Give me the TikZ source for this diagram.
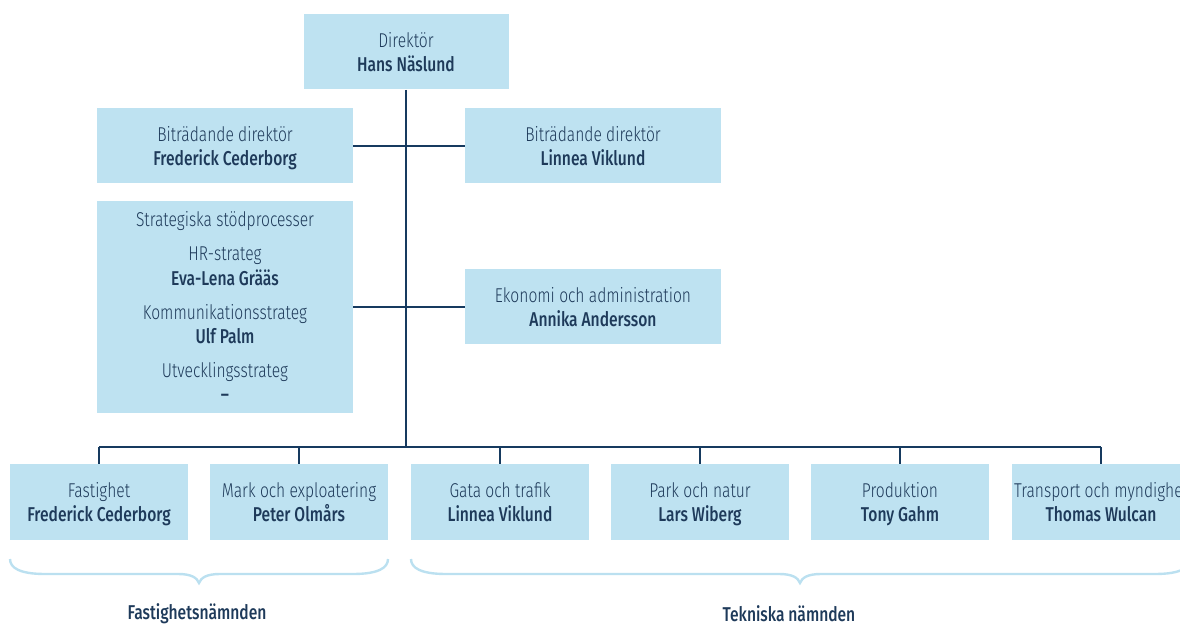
\documentclass[tikz,border=0pt]{standalone}
\usepackage{fontspec}
\setmainfont{Fira Sans Light}[FakeStretch=0.78, BoldFont={Fira Sans Medium}]
\definecolor{boxblue}{HTML}{BEE2F1}
\definecolor{navy}{HTML}{163A5F}
\definecolor{ink}{HTML}{1E3A5A}
\definecolor{braceblue}{HTML}{BBE0F0}
\newcommand{\nm}[1]{\textbf{#1}\rule[-2.4pt]{0pt}{2.4pt}}
\newcommand{\rl}[1]{\rule{0pt}{9.8pt}#1}

\begin{document}
\begin{tikzpicture}[x=0.5pt, y=-0.5pt,
  every node/.style={text=ink, font=\fontsize{10}{12.2}\selectfont},
  orgbox/.style={fill=boxblue, align=center, inner sep=0pt},
  widebox/.style={orgbox, minimum width=128pt, minimum height=37.5pt},
  unitbox/.style={orgbox, minimum width=89pt, minimum height=38pt},
  link/.style={navy, line width=1.4pt},
  brace/.style={braceblue, line width=1.2pt}]
\clip (0,0) rectangle (1180,626);
\node[orgbox, minimum width=102.5pt, minimum height=37.5pt] (dir0) at (406,52){\rl{Direktör}\\\nm{Hans Näslund}};
\node[widebox] (bit1) at (225,146){\rl{Biträdande direktör}\\\nm{Frederick Cederborg}};
\node[widebox] (bit2) at (593,146){\rl{Biträdande direktör}\\\nm{Linnea Viklund}};
\node[widebox, minimum height=106pt] (sto0) at (225,307){\rl{Strategiska stödprocesser}\\[4.75pt]
  HR-strateg\\\textbf{Eva-Lena Grääs}\\[4.75pt]
  Kommunikationsstrateg\\\textbf{Ulf Palm}\\[4.75pt]
  Utvecklingsstrateg\\\nm{--}};
\node[widebox] (eko0) at (593,307){\rl{Ekonomi och administration}\\\nm{Annika Andersson}};
\node[unitbox] (enh0) at (99,502){\rl{Fastighet}\\\nm{Frederick Cederborg}};
\node[unitbox] (enh1) at (299,502){\rl{Mark och exploatering}\\\nm{Peter Olmårs}};
\node[unitbox] (enh2) at (500,502){\rl{Gata och trafik}\\\nm{Linnea Viklund}};
\node[unitbox] (enh3) at (700,502){\rl{Park och natur}\\\nm{Lars Wiberg}};
\node[unitbox] (enh4) at (900,502){\rl{Produktion}\\\nm{Tony Gahm}};
\node[unitbox] (enh5) at (1101,502){\rl{Transport och myndighet}\\\nm{Thomas Wulcan}};
\coordinate (hub) at (406,447);
\draw[link](dir0) -- (hub);
\draw[link](bit1) -- (bit2);
\draw[link](sto0) -- (eko0);
\draw[link](enh0.north |- hub) -- (enh5.north |- hub);
\foreach \i in {0,...,5}
  \draw[link](enh\i.north) -- (enh\i.north |- hub);
% braces
\draw[brace] (10,559) .. controls (10,568) and (20,574) .. (45,574) -- (178,574)
  .. controls (192,574) and (197,578) .. (199,583) .. controls (201,578) and (206,574) .. (220,574)
  -- (353,574) .. controls (378,574) and (388,568) .. (388,559);
\draw[brace] (411,559) .. controls (411,568) and (421,574) .. (446,574) -- (779,574)
  .. controls (793,574) and (798,578) .. (800,583) .. controls (802,578) and (807,574) .. (821,574)
  -- (1155,574) .. controls (1180,574) and (1190,568) .. (1190,559);
\node[font=\fontsize{10}{12}\selectfont\bfseries] (lbl0) at (197,614){Fastighetsnämnden};
\node[font=\fontsize{10}{12}\selectfont\bfseries] (lbl1) at (789,614){Tekniska nämnden};
\end{tikzpicture}
\end{document}
